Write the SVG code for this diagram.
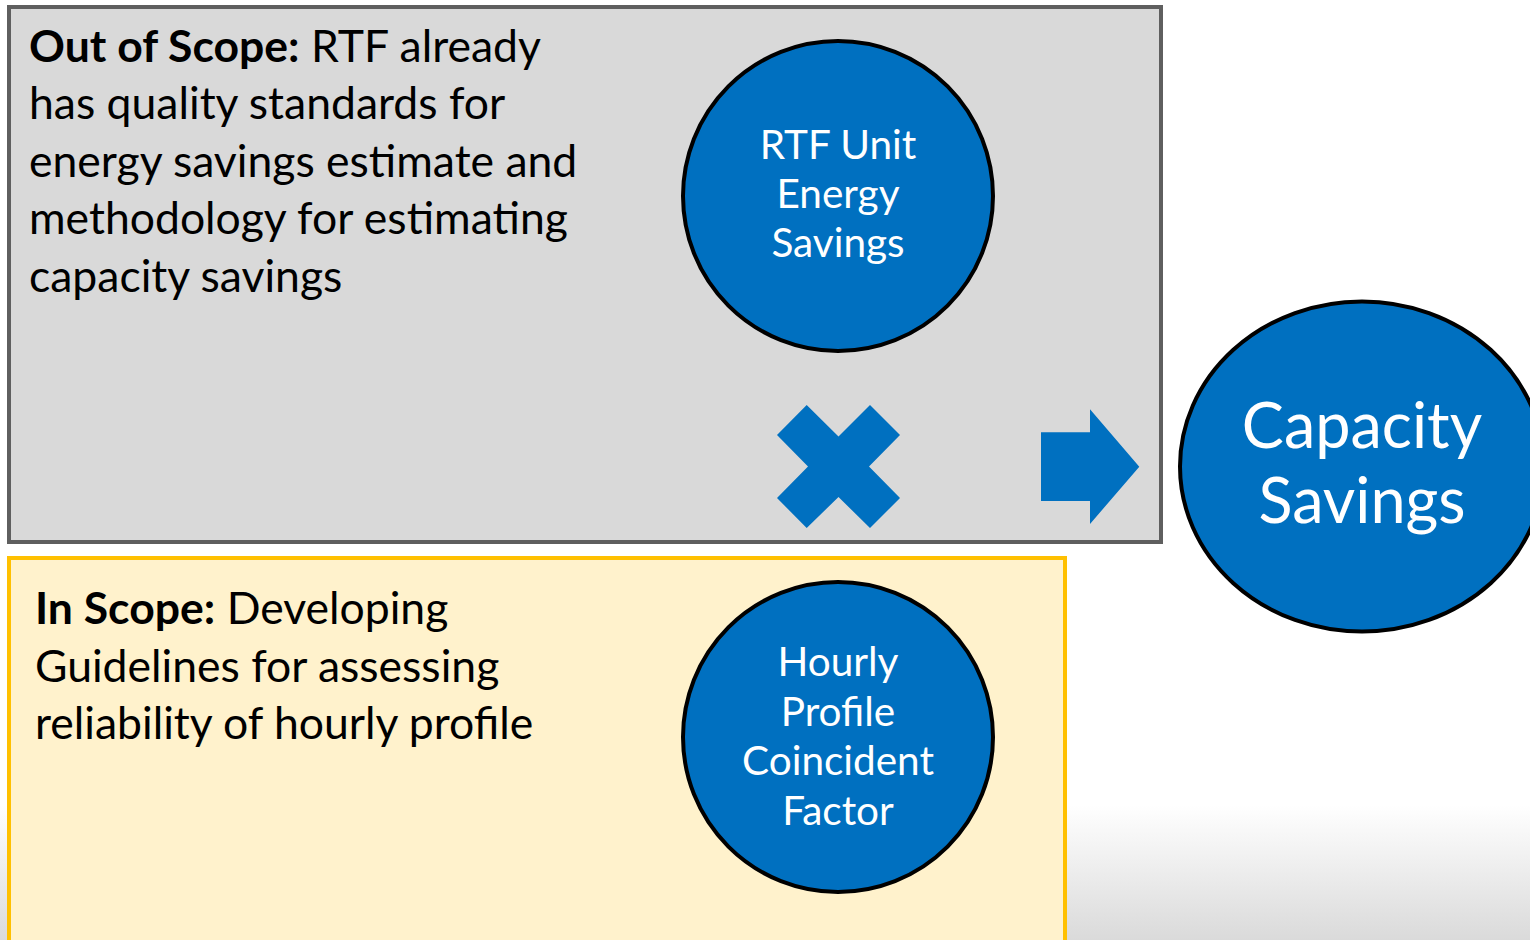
<svg xmlns="http://www.w3.org/2000/svg" width="1530" height="940" viewBox="0 0 1530 940">
<defs>
<linearGradient id="bg" x1="0" y1="0" x2="0" y2="1">
<stop offset="0" stop-color="#ffffff"/>
<stop offset="1" stop-color="#dadada"/>
</linearGradient>
<style>
.t{font-family:Lato,"Liberation Sans",sans-serif;font-size:44.5px;fill:#000}
.b{font-weight:bold}
.c{font-family:Lato,"Liberation Sans",sans-serif;font-size:40.5px;fill:#fff;text-anchor:middle}
.big{font-family:Lato,"Liberation Sans",sans-serif;font-size:63px;fill:#fff;text-anchor:middle}
.node{fill:#0070c0;stroke:#000;stroke-width:4}
.sym{fill:#0070c0}
</style>
</defs>
<rect x="0" y="0" width="1530" height="940" fill="#ffffff"/>
<rect x="0" y="805" width="1530" height="135" fill="url(#bg)"/>
<g id="out-of-scope">
<rect x="9" y="7" width="1152" height="535" fill="#d9d9d9" stroke="#5f5f5f" stroke-width="4"/>
<text class="t"><tspan x="29" y="62"><tspan class="b">Out of Scope:</tspan> RTF already</tspan><tspan x="29" y="119">has quality standards for</tspan><tspan x="29" y="177">energy savings estimate and</tspan><tspan x="29" y="234">methodology for estimating</tspan><tspan x="29" y="292">capacity savings</tspan></text>
</g>
<g id="in-scope">
<rect x="9" y="558" width="1056" height="400" fill="#fff2cc" stroke="#ffc000" stroke-width="4"/>
<text class="t"><tspan x="35" y="624"><tspan class="b">In Scope:</tspan> Developing</tspan><tspan x="35" y="682">Guidelines for assessing</tspan><tspan x="35" y="739">reliability of hourly profile</tspan></text>
</g>
<g id="rtf-unit-energy-savings">
<circle class="node" cx="838" cy="196" r="155"/>
<text class="c"><tspan x="838" y="159">RTF Unit</tspan><tspan x="838" y="208">Energy</tspan><tspan x="838" y="257">Savings</tspan></text>
</g>
<g id="hourly-profile">
<circle class="node" cx="838" cy="737" r="155"/>
<text class="c"><tspan x="838" y="676">Hourly</tspan><tspan x="838" y="726">Profile</tspan><tspan x="838" y="775">Coincident</tspan><tspan x="838" y="825">Factor</tspan></text>
</g>
<g id="capacity-savings">
<ellipse class="node" cx="1362" cy="466.5" rx="182" ry="165"/>
<text class="big"><tspan x="1362" y="448">Capacity</tspan><tspan x="1362" y="523">Savings</tspan></text>
</g>
<g id="connectors">
<polygon class="sym" points="806.7,405 838.5,436.5 870,405 900,435 869,466.5 900,498 870,528 838.5,497 806.7,528 777,498 808,466.5 777,435"/>
<polygon class="sym" points="1041,432.3 1090,432.3 1090,409.3 1139.3,466.7 1090,524 1090,501 1041,501"/>
</g>
</svg>
